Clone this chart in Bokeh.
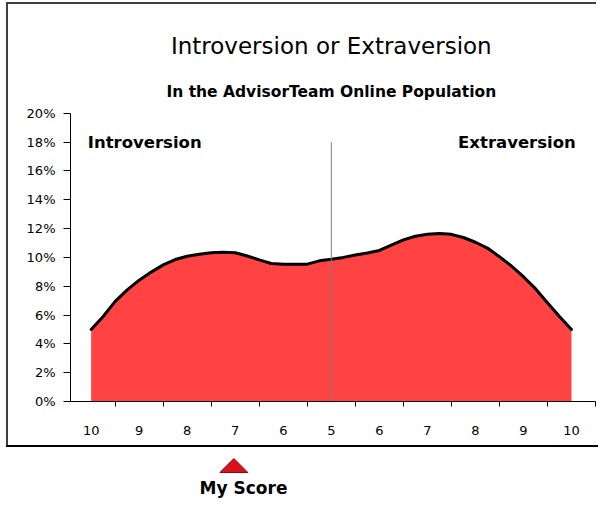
from bokeh.plotting import figure
from bokeh.layouts import column
from bokeh.models import Range1d, FixedTicker, PrintfTickFormatter, Label
from bokeh.core.properties import value
from bokeh.embed import file_html
from bokeh.resources import INLINE

# ---------------- data ----------------
scale_labels = ["10", "9", "8", "7", "6", "5", "6", "7", "8", "9", "10"]
pct_ticks = [0, 2, 4, 6, 8, 10, 12, 14, 16, 18, 20]
# population share (%) every quarter category
curve_x = [i / 4 for i in range(41)]
population_pct = [5.0, 5.9, 6.95, 7.75, 8.42, 8.98, 9.48, 9.85, 10.08, 10.22,
                  10.32, 10.36, 10.32, 10.1, 9.83, 9.58, 9.52, 9.52, 9.53, 9.76,
                  9.87, 10.0, 10.16, 10.3, 10.48, 10.85, 11.22, 11.47, 11.6, 11.65,
                  11.6, 11.38, 11.05, 10.65, 10.05, 9.4, 8.66, 7.83, 6.85, 5.9, 5.0]
title_text = "Introversion or Extraversion"
subtitle_text = "In the AdvisorTeam Online Population"
pole_left = "Introversion"
pole_right = "Extraversion"
divider_label = "5"
divider_top_pct = 18
my_score_label = "7"          # on the Introversion side
my_score_text = "My Score"

divider_x = scale_labels.index(divider_label)
my_score_x = scale_labels.index(my_score_label)

FONT = "DejaVu Sans"

# ---------------- main chart ----------------
p = figure(width=590, height=443,
           x_range=Range1d(-0.43, 10.5), y_range=Range1d(0, 27.55),
           output_backend="svg", toolbar_location=None,
           min_border_left=60, min_border_right=3,
           min_border_top=0, min_border_bottom=46)
p.outline_line_color = None
p.xgrid.grid_line_color = None
p.ygrid.grid_line_color = None
p.background_fill_color = "white"
p.border_fill_color = "white"
p.styles = {"border-top": "2px solid #404040", "border-left": "2px solid #404040"}

p.varea(x=curve_x, y1=0, y2=population_pct, fill_color="#ff4242")
p.line(curve_x, population_pct, line_color="black", line_width=3,
       line_join="round", line_cap="round")
p.segment(x0=[divider_x], y0=[0], x1=[divider_x], y1=[divider_top_pct],
          line_color="#808080", line_width=1)

# x axis: ticks between categories, labels at categories
xa = p.xaxis[0]
xa.ticker = FixedTicker(ticks=list(range(len(scale_labels))),
                        minor_ticks=[i - 0.5 for i in range(len(scale_labels) + 1)])
xa.major_label_overrides = {i: lab for i, lab in enumerate(scale_labels)}
xa.major_tick_line_color = None
xa.major_tick_out = 0
xa.major_tick_in = 0
xa.minor_tick_line_color = "black"
xa.minor_tick_out = 5
xa.minor_tick_in = 0
xa.axis_line_color = "black"
xa.major_label_standoff = 19
xa.major_label_text_font = FONT
xa.major_label_text_font_size = "13px"
xa.major_label_text_color = "black"

ya = p.yaxis[0]
ya.ticker = FixedTicker(ticks=pct_ticks)
ya.bounds = (pct_ticks[0], pct_ticks[-1])
ya.formatter = PrintfTickFormatter(format="%d%%")
ya.major_tick_line_color = "black"
ya.major_tick_out = 7
ya.major_tick_in = 0
ya.minor_tick_line_color = None
ya.axis_line_color = "black"
ya.major_label_standoff = 8
ya.major_label_text_font = FONT
ya.major_label_text_font_size = "13px"
ya.major_label_text_color = "black"

p.add_layout(Label(x=5, y=24.7, text=title_text, text_align="center",
                   text_baseline="middle", text_font=FONT,
                   text_font_size="23px", text_color="black"))
p.add_layout(Label(x=5, y=21.5, text=subtitle_text, text_align="center",
                   text_baseline="middle", text_font=FONT, text_font_style="bold",
                   text_font_size="15.5px", text_color="black"))
p.add_layout(Label(x=-0.07, y=17.95, text=pole_left, text_align="left",
                   text_baseline="middle", text_font=FONT, text_font_style="bold",
                   text_font_size="16.5px", text_color="black"))
p.add_layout(Label(x=10.09, y=18.0, text=pole_right, text_align="right",
                   text_baseline="middle", text_font=FONT, text_font_style="bold",
                   text_font_size="16.5px", text_color="black"))

# ---------------- score marker strip ----------------
q = figure(width=592, height=55, x_range=p.x_range, y_range=Range1d(0, 55),
           output_backend="svg", toolbar_location=None,
           x_axis_type=None, y_axis_type=None,
           min_border_left=62, min_border_right=3,
           min_border_top=0, min_border_bottom=0)
q.outline_line_color = None
q.background_fill_color = "white"
q.border_fill_color = "white"
q.styles = {"border-top": "2px solid black"}

half_w = 0.29
q.patch(x=[my_score_x - half_w, my_score_x, my_score_x + half_w],
        y=[30, 44, 30], fill_color="#d8121c", line_color="#8b0a10", line_width=1)
q.text(x=[my_score_x + 0.2], y=[15], text=[my_score_text], text_align="center",
       text_baseline="middle", text_font=value(FONT), text_font_style="bold",
       text_font_size="17px", text_color="black")

layout = column(p, q, spacing=0, styles={"margin-left": "6px", "margin-top": "2px"})
open("out.html", "w").write(file_html(layout, INLINE))
